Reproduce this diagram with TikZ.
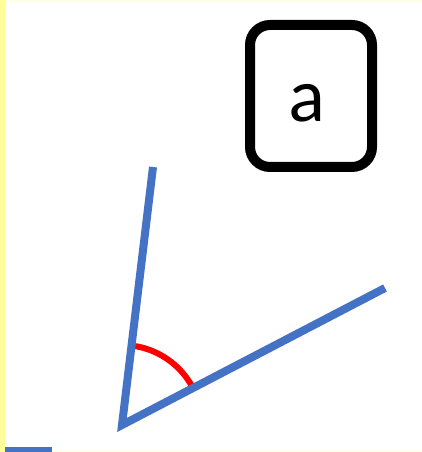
\documentclass[tikz,border=0pt]{standalone}
\usepackage{fontspec}
\newfontfamily\labelfont{Lato}
\definecolor{angleblue}{HTML}{4472C4}
\definecolor{edgeyellow}{HTML}{FFFF99}
\definecolor{rimyellow}{HTML}{FFFFE6}

\begin{document}
\begin{tikzpicture}[x=1pt,y=1pt]
\tikzset{
  labelbox/.style={draw=black,line width=10pt,rounded corners=20pt,minimum width=122pt,minimum height=142pt,inner sep=0pt,font=\labelfont\fontsize{72}{86}\selectfont},
  rayline/.style={draw=angleblue,line width=8pt,line join=miter},
  anglemark/.style={draw=red,line width=6pt}
}
\useasboundingbox (0,0) rectangle (422,452);
% frame strips
\fill[rimyellow] (0,450) rectangle (422,452);
\fill[rimyellow] (0,0) rectangle (422,1.5);
\fill[edgeyellow] (0,0) rectangle (5,452);
% label
\node[labelbox] (n_label) at (311,356) {\hspace*{-8pt}\smash{\raisebox{-26pt}{a}}};
% angle
\coordinate (c_vertex) at (122,27);
\coordinate (c_top) at (153,285);
\coordinate (c_right) at (385,164);
\draw[anglemark] ([shift={(27.5:80)}]c_vertex) arc[start angle=27.5,end angle=83.1,radius=80];
\draw[rayline] (c_top) -- (c_vertex) -- (c_right);
% cut-off stub at the bottom
\coordinate (c_stub_l) at (5,0.5);
\coordinate (c_stub_r) at (52,0.5);
\draw[rayline] (c_stub_l) -- (c_stub_r);
\end{tikzpicture}
\end{document}
